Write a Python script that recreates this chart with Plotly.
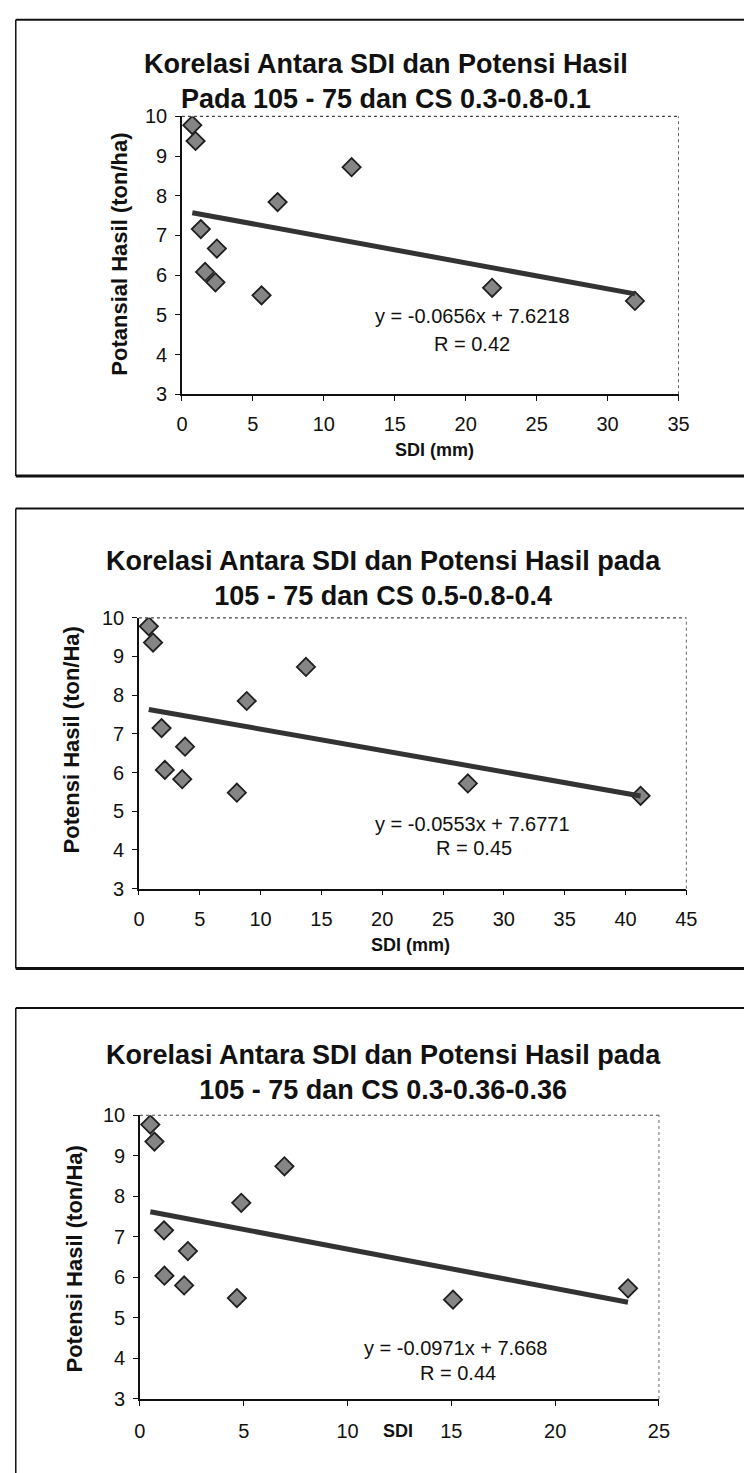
import plotly.graph_objects as go

# ---- data: SDI (mm) vs potential yield (ton/ha) for three CS settings ----
sdi_a = [0.73, 0.96, 1.33, 1.63, 2.46, 2.36, 5.61, 6.74, 11.96, 21.86, 31.93]
hasil_a = [9.78, 9.38, 7.16, 6.08, 6.67, 5.82, 5.49, 7.84, 8.72, 5.68, 5.35]

sdi_b = [0.81, 1.16, 1.86, 2.13, 3.79, 3.56, 8.05, 8.86, 13.73, 27.04, 41.24]
hasil_b = [9.78, 9.36, 7.15, 6.07, 6.67, 5.83, 5.48, 7.85, 8.73, 5.72, 5.40]

sdi_c = [0.50, 0.70, 1.16, 1.18, 2.31, 2.13, 4.67, 4.88, 6.96, 15.08, 23.51]
hasil_c = [9.77, 9.35, 7.16, 6.04, 6.65, 5.80, 5.49, 7.84, 8.74, 5.45, 5.73]

# linear trend (slope, intercept) and correlation for each panel
slopes = [-0.0656, -0.0553, -0.0971]
intercepts = [7.6218, 7.6771, 7.668]
r_values = ["0.42", "0.45", "0.44"]

titles = [
    "Korelasi Antara SDI dan Potensi Hasil<br>Pada 105 - 75 dan CS 0.3-0.8-0.1",
    "Korelasi Antara SDI dan Potensi Hasil pada<br>105 - 75 dan CS 0.5-0.8-0.4",
    "Korelasi Antara SDI dan Potensi Hasil pada<br>105 - 75 dan CS 0.3-0.36-0.36",
]
y_titles = ["Potansial Hasil (ton/ha)", "Potensi Hasil (ton/Ha)", "Potensi Hasil (ton/Ha)"]
x_titles = ["SDI (mm)", "SDI (mm)", "SDI"]
x_max = [35, 45, 25]

# ---- page geometry (pixels) ----
W, H = 755, 1473
FONT = "Liberation Sans, Arial, sans-serif"


def px(x, y):
    return x / W, 1 - y / H


panels = [
    dict(sdi=sdi_a, hasil=hasil_a, plot=(180, 688, 107, 389), frame=(10, 9, 472),
         title=(389, 72), ytitle=(116, 247), xtitle=(438, 446), eq=(477, 310), r=(477, 338),
         standoff=6),
    dict(sdi=sdi_b, hasil=hasil_b, plot=(136, 696, 616, 891), frame=(10, 505, 972),
         title=(386, 576), ytitle=(67, 740), xtitle=(414, 948), eq=(477, 825), r=(479, 850),
         standoff=7),
    dict(sdi=sdi_c, hasil=hasil_c, plot=(137, 668, 1121, 1409), frame=(10, 1012, 1490),
         title=(386, 1078), ytitle=(70, 1267), xtitle=(401, 1442), eq=(460, 1357), r=(462, 1383),
         standoff=8),
]

fig = go.Figure()
layout = dict(
    width=W, height=H,
    margin=dict(l=0, r=0, t=0, b=0),
    paper_bgcolor="white", plot_bgcolor="white",
    showlegend=False,
    font=dict(family=FONT, color="#111"),
)
annotations = []
shapes = []

for i, p in enumerate(panels):
    n = "" if i == 0 else str(i + 1)
    xa, ya = "x" + n, "y" + n
    x0, x1, ytop, ybot = p["plot"]
    dx0, dy0 = px(x0, ybot)
    dx1, dy1 = px(x1, ytop)

    common = dict(
        showgrid=False, zeroline=False, showline=True, linecolor="#111", linewidth=1.5,
        ticks="outside", ticklen=5, tickwidth=1.2, tickcolor="#111",
        tickfont=dict(family=FONT, size=20, color="#111"),
    )
    layout["xaxis" + n] = dict(
        domain=[dx0, dx1], range=[0, x_max[i]], dtick=5, anchor=ya,
        ticklabelstandoff=p["standoff"], **common,
    )
    layout["yaxis" + n] = dict(
        domain=[dy0, dy1], range=[3, 10], dtick=1, anchor=xa,
        ticklabelstandoff=4, **common,
    )

    # scatter points
    fig.add_trace(go.Scatter(
        x=p["sdi"], y=p["hasil"], mode="markers", xaxis=xa, yaxis=ya,
        marker=dict(symbol="diamond", size=14, color="#858585",
                    line=dict(color="#1f1f1f", width=1.8)),
    ))

    # trend line over the observed SDI span
    xs = [min(p["sdi"]), max(p["sdi"])]
    ys = [slopes[i] * v + intercepts[i] for v in xs]
    fig.add_trace(go.Scatter(
        x=xs, y=ys, mode="lines", xaxis=xa, yaxis=ya,
        line=dict(color="#333333", width=5),
    ))

    # dotted top/right edges of the plot area
    shapes.append(dict(type="line", xref=xa + " domain", yref=ya + " domain",
                       x0=0, x1=1, y0=1, y1=1, line=dict(color="#444", width=1.2, dash="dot")))
    shapes.append(dict(type="line", xref=xa + " domain", yref=ya + " domain",
                       x0=1, x1=1, y0=0, y1=1, line=dict(color="#666", width=1, dash="dot")))

    # chart frame
    fl, ft, fb = p["frame"]
    lx, ty = px(fl, ft)
    _, by = px(fl, fb)
    shapes.append(dict(type="line", xref="paper", yref="paper", x0=lx, x1=1.0, y0=ty, y1=ty,
                       line=dict(color="#111", width=2)))
    shapes.append(dict(type="line", xref="paper", yref="paper", x0=lx, x1=1.0, y0=by, y1=by,
                       line=dict(color="#111", width=3)))
    shapes.append(dict(type="line", xref="paper", yref="paper", x0=lx, x1=lx, y0=by, y1=ty,
                       line=dict(color="#111", width=1.5)))

    # chart title
    tx, tyy = px(*p["title"])
    annotations.append(dict(xref="paper", yref="paper", x=tx, y=tyy, text="<b>%s</b>" % titles[i],
                            showarrow=False, xanchor="center", yanchor="middle",
                            font=dict(family=FONT, size=27, color="#111")))
    # axis titles
    ax, ay = px(*p["ytitle"])
    annotations.append(dict(xref="paper", yref="paper", x=ax, y=ay, text="<b>%s</b>" % y_titles[i],
                            textangle=-90, showarrow=False, xanchor="center", yanchor="middle",
                            font=dict(family=FONT, size=22, color="#111")))
    bx, byy = px(*p["xtitle"])
    annotations.append(dict(xref="paper", yref="paper", x=bx, y=byy, text="<b>%s</b>" % x_titles[i],
                            showarrow=False, xanchor="center", yanchor="middle",
                            font=dict(family=FONT, size=18, color="#111")))
    # trend equation and R
    sign = "+" if intercepts[i] >= 0 else "-"
    eq_text = "y = %gx %s %g" % (slopes[i], sign, abs(intercepts[i]))
    ex, ey = px(*p["eq"])
    annotations.append(dict(xref="paper", yref="paper", x=ex, y=ey, text=eq_text,
                            showarrow=False, xanchor="center", yanchor="middle",
                            font=dict(family=FONT, size=20, color="#111")))
    rx, ry = px(*p["r"])
    annotations.append(dict(xref="paper", yref="paper", x=rx, y=ry, text="R = %s" % r_values[i],
                            showarrow=False, xanchor="center", yanchor="middle",
                            font=dict(family=FONT, size=20, color="#111")))

layout["annotations"] = annotations
layout["shapes"] = shapes
fig.update_layout(**layout)

fig.write_html("out.html", config={"displayModeBar": False})
